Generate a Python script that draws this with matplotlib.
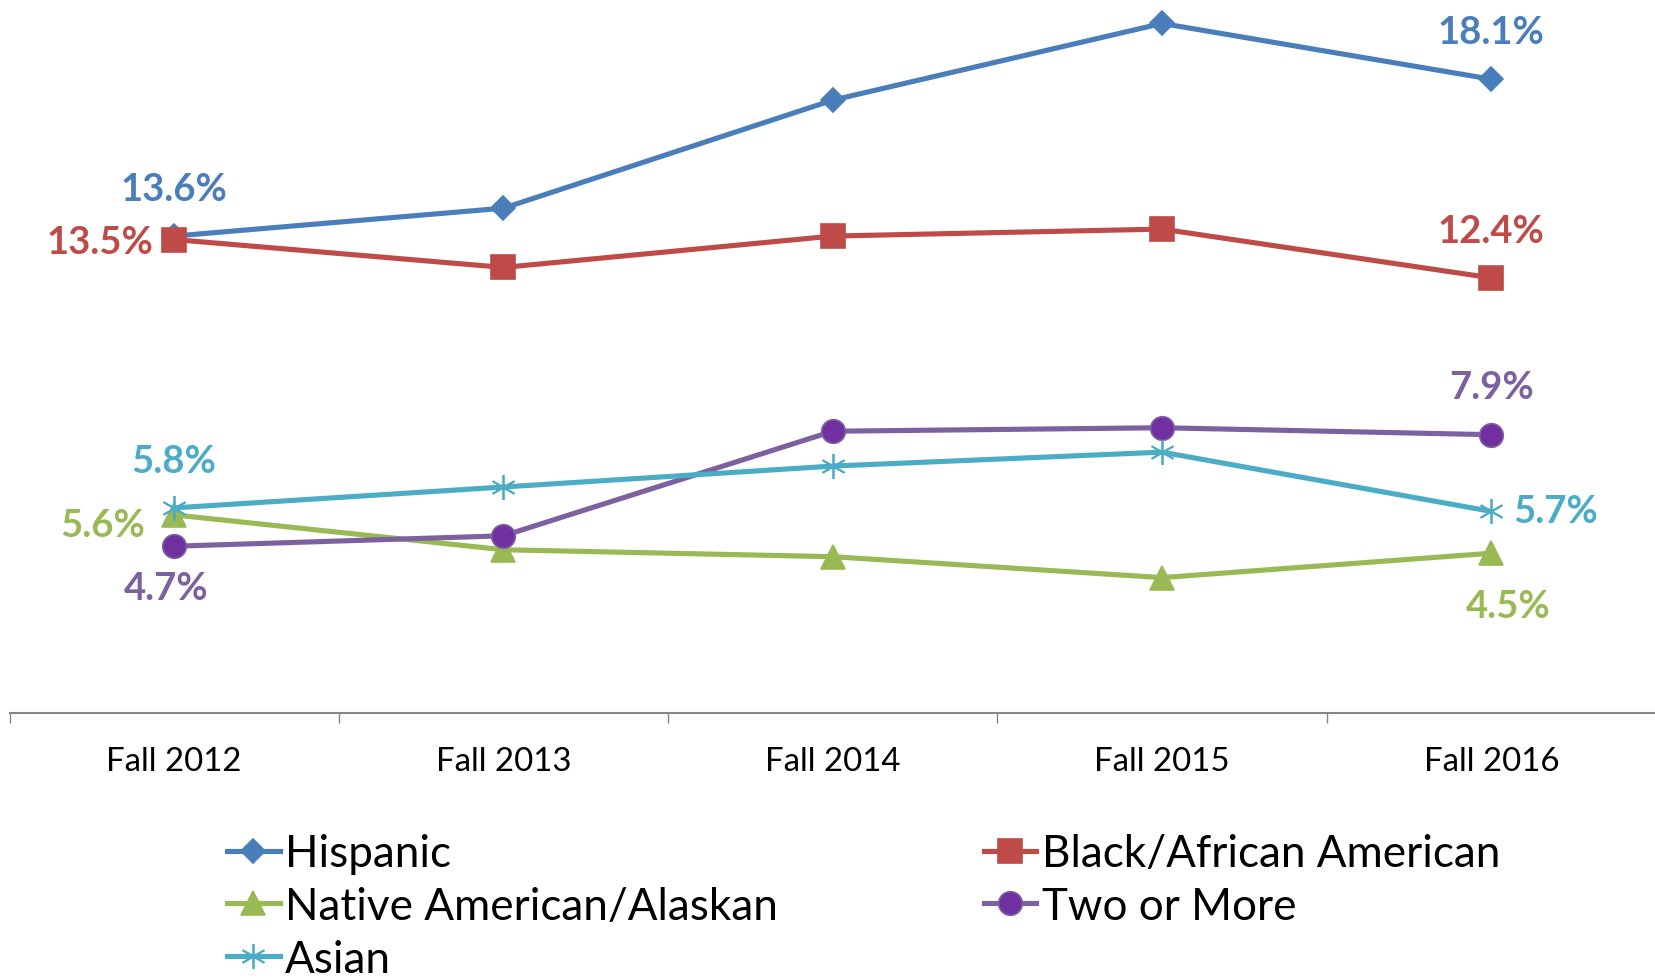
import matplotlib
matplotlib.use('Agg')
import matplotlib.pyplot as plt

plt.rcParams['font.family'] = ['Lato', 'DejaVu Sans']

# data (percent)
terms = ['Fall 2012', 'Fall 2013', 'Fall 2014', 'Fall 2015', 'Fall 2016']
hispanic = [13.6, 14.4, 17.5, 19.7, 18.1]
black = [13.5, 12.7, 13.6, 13.8, 12.4]
native = [5.6, 4.6, 4.4, 3.8, 4.5]
two_or_more = [4.7, 5.0, 8.0, 8.1, 7.9]
asian = [5.8, 6.4, 7.0, 7.4, 5.7]

series = [
    # name, values, line colour, marker, marker size, marker fill, first-label offset/ha, last-label offset/ha
    ('Hispanic', hispanic, '#4A7EBB', 'D', 12, '#4A7EBB', ((0, 34), 'center'), ((0, 34), 'center')),
    ('Black/African American', black, '#BE4B48', 's', 17, '#BE4B48', ((-15, -2), 'right'), ((0, 34), 'center')),
    ('Native American/Alaskan', native, '#98B954', '^', 17, '#98B954', ((-21, -7), 'right'), ((12, -38), 'center')),
    ('Two or More', two_or_more, '#7D60A0', 'o', 17, '#7030A0', ((-6, -30), 'center'), ((0, 34), 'center')),
    ('Asian', asian, '#4BACC6', (6, 2, 0), 18, '#4BACC6', ((0, 34), 'center'), ((16, 0), 'left')),
]

fig = plt.figure(figsize=(16.56, 9.79), dpi=100)
ax = fig.add_axes([0.00574, 0.2737, 0.99426, 0.712])
x = list(range(len(terms)))

handles = {}
for name, vals, col, mk, ms, fill, first, last in series:
    mew = 1.3 if mk == (6, 2, 0) else 1.2
    line, = ax.plot(x, vals, color=col, lw=3.7, marker=mk, markersize=ms,
                    markerfacecolor=fill, markeredgecolor=col, markeredgewidth=mew,
                    clip_on=False, label=name)
    handles[name] = line
    for idx, (off, ha) in ((0, first), (len(vals) - 1, last)):
        ax.annotate(f'{vals[idx]:.1f}%', (idx, vals[idx]), xytext=off,
                    textcoords='offset points', ha=ha, va='center',
                    fontsize=27.5, fontweight='bold', color=col)

ax.set_xlim(-0.5, 4.5)
ax.set_ylim(0, 20)
ax.set_yticks([])
for s in ['left', 'top', 'right']:
    ax.spines[s].set_visible(False)
ax.spines['bottom'].set_color('#868686')
ax.spines['bottom'].set_linewidth(1.5)
ax.spines['bottom'].set_position(('outward', 2.2))

ax.set_xticks(x)
ax.set_xticklabels(terms)
ax.set_xticks([-0.5, 0.5, 1.5, 2.5, 3.5], minor=True)
ax.tick_params(axis='x', which='major', length=0, pad=23.5, labelsize=23.8)
ax.tick_params(axis='x', which='minor', length=7.5, width=1, color='#868686')

order = ['Hispanic', 'Native American/Alaskan', 'Asian', 'Black/African American', 'Two or More']
fig.legend([handles[n] for n in order], order, loc='upper left',
           bbox_to_anchor=(227 / 1656, 1 - 834 / 979), ncol=2, frameon=False,
           fontsize=31.7, handlelength=1.2, handletextpad=0.12, columnspacing=4.67,
           labelspacing=0.27, borderpad=0, borderaxespad=0)

fig.savefig('out.png', dpi=100)
